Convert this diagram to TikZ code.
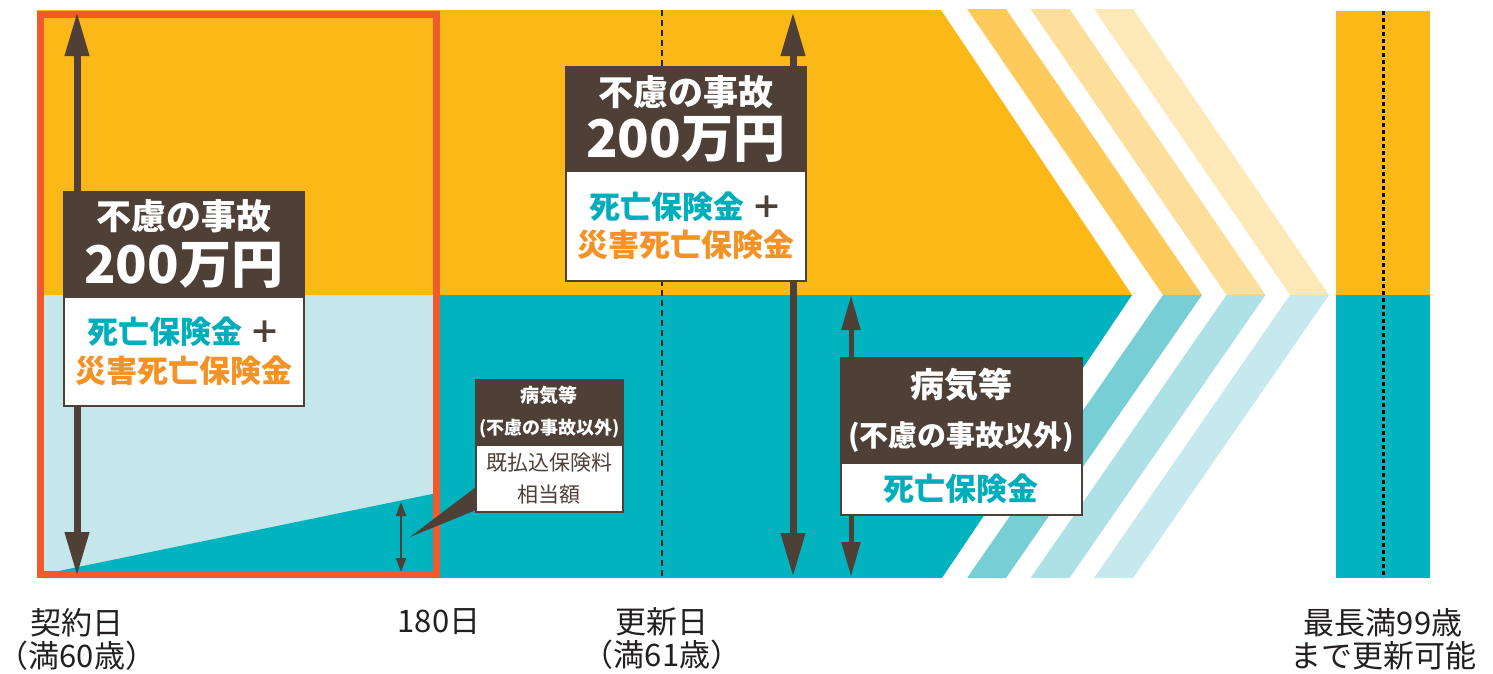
\documentclass[tikz,border=0pt]{standalone}
\usepackage{fontspec}
\setmainfont{Noto Sans CJK JP}
\usetikzlibrary{arrows.meta}
\definecolor{ylw}{HTML}{FBB817}
\definecolor{tl}{HTML}{00B3BE}
\definecolor{ltb}{HTML}{C5E6EA}
\definecolor{ys1}{HTML}{FDCA5B}
\definecolor{ys2}{HTML}{FDDE9A}
\definecolor{ys3}{HTML}{FDE8B8}
\definecolor{ts1}{HTML}{77CFD5}
\definecolor{ts2}{HTML}{ADE1E5}
\definecolor{ts3}{HTML}{C5E9EC}
\definecolor{frm}{HTML}{F15A2C}
\definecolor{brn}{HTML}{4E4037}
\definecolor{ttxt}{HTML}{00AEBB}
\definecolor{otxt}{HTML}{F39325}
\definecolor{lbl}{HTML}{231F20}
\begin{document}
\begin{tikzpicture}[x=1pt,y=-1pt,
  hdr/.style={draw=brn, line width=1.5pt, fill=brn, text=white, anchor=north west, inner sep=0pt, align=center},
  bodybox/.style={draw=brn, line width=1.5pt, fill=white, anchor=north west, inner sep=0pt, align=center},
  bigarrow/.style={draw=brn, line width=7pt, {Triangle[width=23pt,length=44pt]}-{Triangle[width=23pt,length=44pt]}},
  midarrow/.style={draw=brn, line width=5pt, {Triangle[width=18pt,length=35pt]}-{Triangle[width=18pt,length=35pt]}},
  smallarrow/.style={draw=brn, line width=2pt, {Triangle[width=10pt,length=14pt]}-{Triangle[width=10pt,length=14pt]}},
  lblstyle/.style={text=lbl, inner sep=0pt, align=center, font=\fontsize{31}{33}\selectfont}
]
\useasboundingbox (0,0) rectangle (1493,673);
% main bands
\fill[ylw] (37,10) -- (941,10) -- (1132,295) -- (37,295) -- cycle;
\fill[tl] (437,295) -- (1132,295) -- (942,578) -- (437,578) -- cycle;
\fill[ltb] (37,295) rectangle (437,578);
\fill[tl] (44,574) -- (437,493) -- (437,578) -- (44,578) -- cycle;
% stripes
\foreach \i/\yc/\tc in {0/ys1/ts1, 1/ys2/ts2, 2/ys3/ts3}{
  \pgfmathsetmacro{\xl}{967+63.5*\i}
  \pgfmathsetmacro{\xr}{\xl+39}
  \fill[\yc] (\xl,9) -- (\xr,9) -- (\xr+196,295) -- (\xl+196,295) -- cycle;
  \fill[\tc] (\xl+196,295) -- (\xr+196,295) -- (\xr,578) -- (\xl,578) -- cycle;
}
% right strip
\fill[ylw] (1336,11) rectangle (1430,295);
\fill[tl] (1336,295) rectangle (1430,578);
\coordinate (rtop) at (1383,11);
\coordinate (rbot) at (1383,578);
\draw[black, line width=3pt, dash pattern=on 4pt off 3pt] (rtop) -- (rbot);
\coordinate (utop) at (662,10);
\coordinate (ubot) at (662,578);
\draw[lbl, line width=1.5pt, dash pattern=on 6pt off 4pt] (utop) -- (ubot);
% orange frame
\draw[frm, line width=6.5pt] (40.5,14.5) rectangle (436.5,574.5);
% arrows
\coordinate (a1t) at (77,12);
\coordinate (a1b) at (77,576);
\draw[bigarrow] (a1t) -- (a1b);
\coordinate (a2t) at (793,12);
\coordinate (a2b) at (793,577);
\draw[bigarrow] (a2t) -- (a2b);
\coordinate (a3t) at (851,295);
\coordinate (a3b) at (851,577);
\draw[midarrow] (a3t) -- (a3b);
\coordinate (a4t) at (401,502);
\coordinate (a4b) at (401,572);
\draw[smallarrow] (a4t) -- (a4b);
% left box
\node[hdr, minimum width=240pt, minimum height=105pt, font=\bfseries\fontsize{35}{54}\selectfont] (lhdr) at (63,191)
  {不慮の事故\\{\fontsize{52}{54}\selectfont 200万円}};
\node[bodybox, minimum width=240pt, minimum height=109pt, font=\bfseries\fontsize{31}{39}\selectfont] (lbody) at (63,296)
  {{\color{ttxt}死亡保険金} {\color{brn}＋}\\{\color{otxt}災害死亡保険金}};
% middle box
\node[hdr, minimum width=240pt, minimum height=104pt, font=\bfseries\fontsize{35}{52}\selectfont] (mhdr) at (565,66)
  {不慮の事故\\{\fontsize{52}{52}\selectfont 200万円}};
\node[bodybox, minimum width=240pt, minimum height=110pt, font=\bfseries\fontsize{31}{38}\selectfont] (mbody) at (565,170)
  {{\color{ttxt}死亡保険金} {\color{brn}＋}\\{\color{otxt}災害死亡保険金}};
% illness box
\node[hdr, minimum width=241pt, minimum height=105pt, font=\bfseries\fontsize{34}{49}\selectfont] (ihdr) at (840,357)
  {病気等\\{\fontsize{29}{49}\selectfont (不慮の事故以外)}};
\node[bodybox, minimum width=241pt, minimum height=52pt, font=\bfseries\fontsize{31}{39}\selectfont] (ibody) at (840,462)
  {{\color{ttxt}死亡保険金}};
% callout
\coordinate (pu) at (476,487);
\coordinate (pl) at (476,510);
\coordinate (ptip) at (410,537);
\fill[brn] (pu) -- (ptip) -- (pl) -- cycle;
\node[hdr, minimum width=147pt, minimum height=65pt, font=\bfseries\fontsize{19}{32}\selectfont] (shdr) at (475,379)
  {病気等\\{\fontsize{18}{32}\selectfont (不慮の事故以外)}};
\node[bodybox, minimum width=147pt, minimum height=67pt, font=\fontsize{21}{32}\selectfont] (sbody) at (475,444)
  {\color{brn}既払込保険料\\\color{brn}相当額};
% labels
\node[lblstyle] (l1) at (77,639) {契約日\\（満60歳）};
\node[lblstyle] (l2) at (439,622) {180日};
\node[lblstyle] (l3) at (662,639) {更新日\\（満61歳）};
\node[lblstyle] (l4) at (1383,639) {最長満99歳\\まで更新可能};
\end{tikzpicture}
\end{document}
